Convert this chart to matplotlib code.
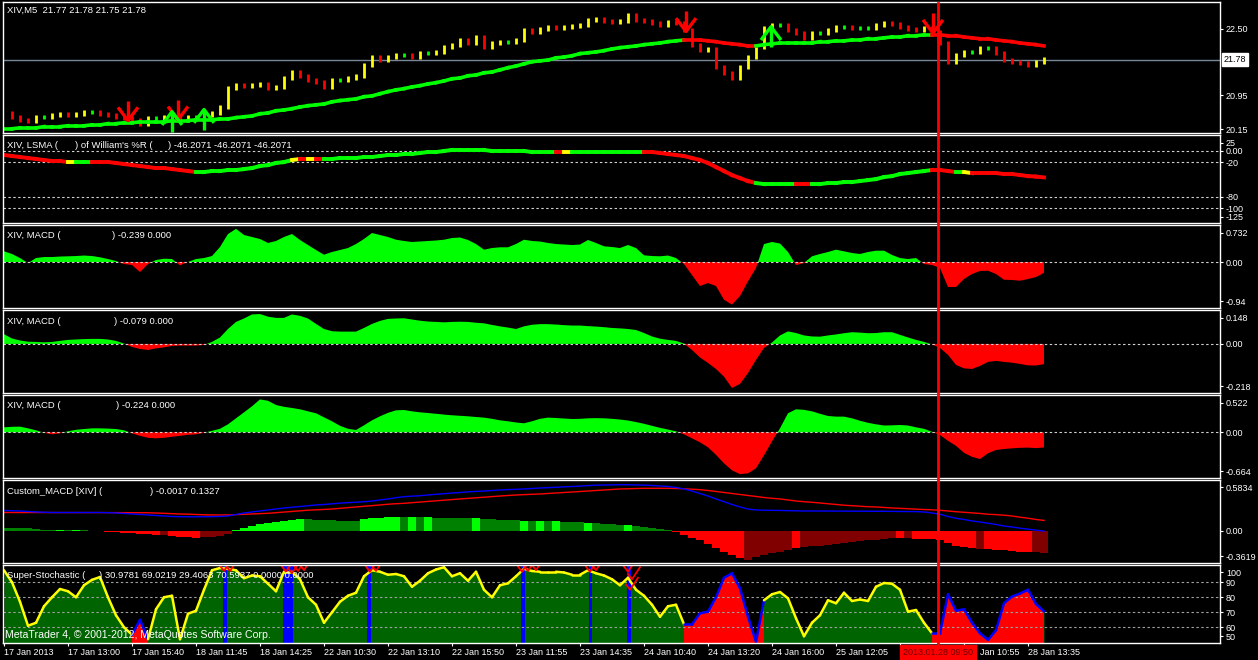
import numpy as np
import matplotlib
matplotlib.use("Agg")
import matplotlib.pyplot as plt
from matplotlib.collections import LineCollection
import matplotlib.transforms as mtrans

plt.rcParams['font.family'] = ['Liberation Sans', 'DejaVu Sans']

# ---------------- data (one sample every 4 five-minute bars) ----------------
price_close = [20.53,20.44,20.37,20.35,20.44,20.44,20.49,20.51,20.49,20.51,
20.56,20.56,20.51,20.49,20.44,20.42,20.35,20.28,20.42,20.42,
20.44,20.42,20.37,20.44,20.44,20.49,20.53,20.67,21.12,21.19,
21.17,21.19,21.21,21.12,21.14,21.35,21.49,21.40,21.31,21.26,
21.14,21.31,21.31,21.35,21.40,21.66,21.84,21.77,21.84,21.89,
21.89,21.84,21.94,21.94,21.96,22.08,22.13,22.24,22.17,22.31,
22.08,22.17,22.20,22.20,22.24,22.48,22.43,22.50,22.55,22.52,
22.55,22.57,22.59,22.71,22.73,22.69,22.66,22.69,22.83,22.71,
22.69,22.64,22.59,22.66,22.64,22.48,22.13,22.01,22.03,21.61,
21.47,21.35,21.61,21.84,22.08,22.52,22.59,22.59,22.48,22.41,
22.29,22.41,22.41,22.48,22.55,22.55,22.52,22.52,22.52,22.59,
22.64,22.62,22.55,22.50,22.48,22.52,22.43,22.17,21.73,21.89,
21.96,21.96,22.06,22.06,21.94,21.77,21.73,21.70,21.66,21.73,
21.78]

ma_price = [20.16,20.16,20.18,20.18,20.18,20.21,20.21,20.21,20.23,20.23,
20.23,20.25,20.25,20.28,20.28,20.30,20.30,20.32,20.32,20.32,
20.32,20.35,20.35,20.35,20.37,20.37,20.37,20.39,20.39,20.42,
20.44,20.46,20.51,20.53,20.58,20.60,20.63,20.67,20.70,20.72,
20.74,20.79,20.82,20.84,20.86,20.91,20.93,20.98,21.03,21.07,
21.10,21.14,21.17,21.21,21.24,21.28,21.33,21.35,21.40,21.42,
21.47,21.49,21.54,21.59,21.63,21.68,21.73,21.75,21.77,21.82,
21.84,21.87,21.92,21.94,21.96,21.99,22.03,22.06,22.08,22.10,
22.13,22.15,22.17,22.20,22.22,22.24,22.24,22.24,22.22,22.20,
22.17,22.15,22.13,22.10,22.10,22.13,22.15,22.17,22.17,22.17,
22.17,22.17,22.20,22.20,22.22,22.22,22.24,22.24,22.27,22.27,
22.29,22.31,22.31,22.34,22.34,22.36,22.36,22.36,22.34,22.34,
22.31,22.29,22.27,22.27,22.24,22.22,22.20,22.17,22.15,22.13,
22.10]
ma_state = ("g" * 86) + ("r" * 9) + ("g" * 22) + ("r" * 14)

last_price = 21.78
down_arrows = [(62, 20.35), (87, 20.37), (341, 22.44), (464.5, 22.40)]
up_arrows = [(84, 20.56), (100, 20.61), (383.5, 22.55)]

lsma = [-7.0,-8.8,-10.5,-12.3,-14.0,-15.8,-17.5,-17.5,-19.3,-19.3,
-19.3,-19.3,-19.3,-19.3,-21.0,-22.8,-24.6,-26.3,-28.1,-29.8,
-29.8,-31.6,-33.3,-35.1,-36.8,-36.8,-35.1,-35.1,-33.3,-33.3,
-31.6,-29.8,-26.3,-24.6,-21.0,-19.3,-15.8,-14.0,-14.0,-14.0,
-14.0,-14.0,-12.3,-12.3,-12.3,-10.5,-10.5,-8.8,-7.0,-7.0,
-5.3,-5.3,-3.5,-1.8,-1.8,0.0,1.8,1.8,1.8,1.8,
1.8,0.0,0.0,0.0,0.0,0.0,-1.8,-1.8,-1.8,-1.8,
-1.8,-1.8,-1.8,-1.8,-1.8,-1.8,-1.8,-1.8,-1.8,-1.8,
-1.8,-1.8,-3.5,-5.3,-7.0,-8.8,-12.3,-15.8,-21.0,-28.1,
-35.1,-42.1,-47.4,-52.6,-56.1,-57.9,-57.9,-57.9,-57.9,-57.9,
-57.9,-57.9,-57.9,-56.1,-56.1,-54.4,-54.4,-52.6,-50.9,-49.1,
-45.6,-43.9,-40.3,-38.6,-36.8,-35.1,-33.3,-33.3,-35.1,-36.8,
-36.8,-38.6,-38.6,-38.6,-38.6,-40.3,-40.3,-42.1,-43.9,-44.8,
-46.2]
lsma_state = ("rrrrrrrrr" "y" "gg" "rrrrrrrrrrrrr" "gggggggggggg" "yryr"
              "ggggggggggggggggggggggggggggg" "ry" "ggggggggg"
              "rrrrrrrrrrrrrr" "ggggg" "rr" "ggggggggggggggg" "rrr" "gy" "rrrrrrrrr")

macd1 = [0.236,0.177,0.088,-0.022,0.088,0.110,0.110,0.121,0.126,0.132,
0.143,0.132,0.104,0.066,0.022,-0.044,-0.066,-0.221,-0.044,0.044,
0.073,0.066,-0.073,0.0,0.066,0.088,0.132,0.331,0.618,0.732,
0.596,0.552,0.508,0.420,0.464,0.552,0.618,0.486,0.375,0.265,
0.161,0.221,0.265,0.309,0.397,0.508,0.640,0.596,0.552,0.492,
0.464,0.442,0.453,0.464,0.475,0.492,0.530,0.541,0.486,0.397,
0.272,0.309,0.325,0.325,0.397,0.492,0.464,0.453,0.420,0.397,
0.386,0.375,0.386,0.486,0.420,0.347,0.331,0.309,0.375,0.309,
0.148,0.132,0.126,0.143,0.088,-0.044,-0.287,-0.530,-0.464,-0.530,
-0.832,-0.940,-0.751,-0.426,-0.132,0.397,0.442,0.408,0.221,-0.066,
-0.022,0.126,0.177,0.221,0.272,0.236,0.199,0.177,0.221,0.250,
0.250,0.155,0.088,0.066,0.088,-0.044,-0.066,-0.132,-0.552,-0.552,
-0.375,-0.265,-0.199,-0.192,-0.265,-0.391,-0.397,-0.413,-0.375,-0.331,
-0.239]

macd2 = [0.048,0.027,0.017,0.011,0.010,0.008,0.010,0.015,0.020,0.022,
0.024,0.025,0.025,0.022,0.015,0.002,-0.015,-0.025,-0.030,-0.022,
-0.017,-0.010,-0.008,-0.008,-0.008,-0.005,0.010,0.032,0.074,0.109,
0.126,0.146,0.148,0.135,0.129,0.129,0.146,0.139,0.126,0.099,
0.074,0.063,0.061,0.061,0.061,0.079,0.099,0.114,0.124,0.126,
0.127,0.121,0.115,0.111,0.109,0.107,0.109,0.110,0.109,0.105,
0.102,0.094,0.087,0.081,0.074,0.087,0.095,0.098,0.098,0.096,
0.093,0.091,0.091,0.088,0.086,0.083,0.079,0.077,0.074,0.069,
0.054,0.037,0.026,0.020,0.015,0.002,-0.030,-0.067,-0.094,-0.124,
-0.162,-0.218,-0.198,-0.144,-0.079,-0.020,0.007,0.042,0.062,0.054,
0.042,0.037,0.036,0.042,0.047,0.053,0.058,0.056,0.053,0.054,
0.058,0.058,0.045,0.032,0.020,0.010,-0.002,-0.020,-0.054,-0.104,
-0.121,-0.124,-0.109,-0.089,-0.084,-0.089,-0.093,-0.099,-0.106,-0.107,
-0.100]

macd3 = [0.079,0.087,0.090,0.063,0.032,-0.008,-0.032,-0.016,0.016,0.040,
0.052,0.063,0.063,0.059,0.052,0.032,-0.016,-0.056,-0.087,-0.095,
-0.087,-0.071,-0.056,-0.040,-0.032,-0.008,0.024,0.056,0.127,0.222,
0.317,0.413,0.522,0.500,0.433,0.405,0.386,0.365,0.333,0.302,
0.238,0.175,0.103,0.056,0.037,0.111,0.190,0.254,0.309,0.349,
0.354,0.333,0.317,0.306,0.294,0.281,0.270,0.262,0.254,0.243,
0.233,0.214,0.190,0.175,0.156,0.143,0.175,0.214,0.233,0.227,
0.219,0.211,0.214,0.222,0.225,0.222,0.214,0.203,0.187,0.163,
0.135,0.103,0.071,0.044,0.016,-0.032,-0.095,-0.159,-0.238,-0.357,
-0.492,-0.603,-0.664,-0.651,-0.571,-0.365,-0.143,0.063,0.302,0.365,
0.357,0.333,0.294,0.259,0.249,0.249,0.222,0.183,0.151,0.127,
0.108,0.111,0.116,0.108,0.079,0.056,0.008,-0.043,-0.135,-0.214,
-0.325,-0.389,-0.424,-0.333,-0.281,-0.265,-0.254,-0.246,-0.243,-0.251,
-0.240]

cmacd_hist = [0.034,0.034,0.034,0.034,0.025,0.013,0.009,0.009,0.009,0.009,
0.006,0.004,-0.006,-0.013,-0.019,-0.025,-0.029,-0.038,-0.044,-0.050,
-0.057,-0.063,-0.072,-0.082,-0.084,-0.082,-0.076,-0.063,-0.032,0.009,
0.038,0.063,0.082,0.095,0.107,0.126,0.139,0.148,0.145,0.142,
0.139,0.135,0.132,0.132,0.132,0.151,0.164,0.168,0.170,0.173,
0.173,0.173,0.170,0.170,0.164,0.161,0.160,0.158,0.158,0.158,
0.151,0.145,0.139,0.139,0.136,0.132,0.130,0.126,0.124,0.120,
0.113,0.110,0.107,0.101,0.095,0.088,0.084,0.079,0.073,0.063,
0.050,0.038,0.025,0.013,-0.013,-0.050,-0.088,-0.120,-0.164,-0.214,
-0.261,-0.303,-0.340,-0.362,-0.328,-0.303,-0.281,-0.259,-0.240,-0.221,
-0.208,-0.195,-0.189,-0.180,-0.170,-0.158,-0.139,-0.126,-0.120,-0.113,
-0.101,-0.092,-0.092,-0.092,-0.095,-0.101,-0.107,-0.120,-0.151,-0.189,
-0.208,-0.221,-0.227,-0.231,-0.236,-0.240,-0.250,-0.259,-0.261,-0.265,
-0.274]
cmacd_state = ("DDDDDDD" "B" "D" "B" "DD" "RRRRRRRR" "M" "RRRR" "MMMM" "BBBBBBBBB"
               "DDDDDDD" "BBBBB" "D" "B" "D" "B" "DDDDD" "B" "DDDDD" "B" "D" "B" "D" "B"
               "DDD" "B" "DDDD" "B" "DDDDD" "RRRRRRRRR" "MMMMMM" "R" "MMMMMMMMMMMM"
               "R" "M" "RRRRRRRR" "M" "RRRRRR" "MM")

cmacd_main = [0.259,0.256,0.252,0.246,0.240,0.236,0.233,0.233,0.233,0.233,
0.233,0.233,0.233,0.231,0.227,0.221,0.214,0.208,0.202,0.195,
0.189,0.183,0.180,0.179,0.179,0.179,0.180,0.183,0.189,0.208,
0.227,0.240,0.252,0.265,0.277,0.290,0.299,0.309,0.318,0.328,
0.334,0.343,0.351,0.357,0.363,0.369,0.378,0.391,0.404,0.420,
0.433,0.439,0.445,0.454,0.463,0.470,0.479,0.485,0.494,0.499,
0.504,0.511,0.517,0.521,0.526,0.530,0.536,0.542,0.546,0.551,
0.557,0.561,0.567,0.574,0.578,0.580,0.582,0.5834,0.583,0.581,
0.578,0.574,0.567,0.561,0.549,0.530,0.504,0.473,0.441,0.404,
0.369,0.334,0.303,0.277,0.265,0.262,0.261,0.259,0.256,0.255,
0.252,0.252,0.252,0.251,0.251,0.250,0.250,0.249,0.249,0.248,
0.248,0.247,0.246,0.245,0.244,0.240,0.227,0.211,0.183,0.160,
0.145,0.126,0.113,0.097,0.082,0.063,0.050,0.035,0.023,0.010,
-0.0017]

cmacd_signal = [0.233,0.233,0.233,0.233,0.233,0.233,0.233,0.233,0.232,0.232,
0.232,0.232,0.232,0.232,0.231,0.231,0.231,0.231,0.230,0.227,
0.223,0.218,0.214,0.212,0.208,0.204,0.202,0.202,0.202,0.206,
0.211,0.214,0.218,0.223,0.231,0.240,0.248,0.256,0.262,0.267,
0.271,0.277,0.286,0.294,0.303,0.311,0.319,0.328,0.337,0.344,
0.349,0.357,0.366,0.373,0.381,0.388,0.396,0.404,0.411,0.419,
0.426,0.434,0.441,0.448,0.454,0.458,0.462,0.467,0.473,0.479,
0.485,0.492,0.498,0.504,0.511,0.517,0.523,0.530,0.533,0.537,
0.538,0.538,0.538,0.538,0.536,0.532,0.527,0.521,0.511,0.498,
0.485,0.473,0.460,0.448,0.435,0.422,0.412,0.404,0.391,0.378,
0.369,0.362,0.353,0.344,0.334,0.325,0.319,0.313,0.306,0.303,
0.296,0.290,0.286,0.281,0.275,0.271,0.267,0.261,0.252,0.243,
0.236,0.230,0.221,0.211,0.206,0.199,0.189,0.174,0.161,0.145,
0.1327]

stoch = [98,90,77,61,63,74,80,85.5,84,80,
88,91.6,93.5,80,68,60,55,65,52,72,
80,81,52,69,71,85,98,99.5,99,98,
92.7,94.5,94,89,84,97,97,92,80,75,
63,70,77,81,83,94,98,97,95,95.5,
94,87,91,96,98.5,100,94,96,91,97,
85,80,88,89.3,94,99,97.5,97,97,97,
96.5,95,95,98,96,94.5,92,88,93,85,
81,75,67,74,75,62,62,69.3,70.4,80,
93,96,86,67,50.4,78,82,83.5,79.3,66,
54,63,68,78,76,83,77.5,78.5,77.5,87,
89.5,89,85,70.4,71.5,63,56,56,82,71,
72,63,56,51.6,58,76,80.5,82.5,85,75.5,
70.6]
stoch_mode = ("u" * 17) + "d" + ("u" * 68) + ("d" * 9) + ("u" * 22) + ("d" * 14)
stoch_signal_spans = [(109.5, 111.5), (139.5, 144.5), (181.5, 183.5),
                      (258.5, 260.5), (292.5, 294.0), (311.5, 313.5)]
stoch_checks = [(110, 97.5), (113, 97.5), (141, 97), (144, 96), (147, 97.5), (150, 98),
                (183, 97), (186, 97.5), (259, 97), (262, 97.5), (266, 98),
                (293, 97), (296, 98), (312, 97), (314, 92), (313, 85)]

# time axis: the label at bar 448 is hidden under the cursor date box,
# and only "Jan 10:55" of the bar-480 label shows beside it
time_label_bars = [0, 32, 64, 96, 128, 160, 192, 224, 256, 288, 320, 352, 384, 416, 448, 480, 512]
time_labels = ['17 Jan 2013', '17 Jan 13:00', '17 Jan 15:40', '18 Jan 11:45', '18 Jan 14:25',
               '22 Jan 10:30', '22 Jan 13:10', '22 Jan 15:50', '23 Jan 11:55', '23 Jan 14:35',
               '24 Jan 10:40', '24 Jan 13:20', '24 Jan 16:00', '25 Jan 12:05', '',
               '', '28 Jan 13:35']
partial_label = 'Jan 10:55'
cursor_bar = 467
cursor_label = '2013.01.28 09:50'

# ---------------- figure ----------------
W, H = 1258, 660
fig = plt.figure(figsize=(W / 100, H / 100), dpi=100, facecolor='black')
xb = np.arange(len(price_close)) * 4
XMIN, XMAX = -0.5, 608.0
TFS = 6.8   # title font size
LFS = 6.5   # label font size

panels_px = [(2, 133), (135, 223), (225, 308), (310, 393), (395, 478), (480, 563), (565, 643)]
axes = []
for top, bot in panels_px:
    ax = fig.add_axes([3 / W, 1 - bot / H, 1217 / W, (bot - top) / H])
    ax.set_facecolor('black')
    ax.set_xlim(XMIN, XMAX)
    for s in ax.spines.values():
        s.set_color('white')
        s.set_linewidth(1)
    ax.yaxis.tick_right()
    ax.tick_params(axis='y', colors='white', labelsize=LFS, length=2.2, pad=2, width=0.8)
    ax.tick_params(axis='x', bottom=False, labelbottom=False)
    axes.append(ax)
ax1, ax2, ax3, ax4, ax5, ax6, ax7 = axes

def set_yaxis(ax, ylim, ticks, labels):
    ax.set_ylim(*ylim)
    ax.set_yticks(ticks)
    ax.set_yticklabels(labels)

def colored_line(ax, x, y, state, cmap, lw):
    pts = np.column_stack([x, y])
    segs = np.stack([pts[:-1], pts[1:]], axis=1)
    cols = [cmap[c] for c in state[1:]]
    ax.add_collection(LineCollection(segs, colors=cols, linewidths=lw, capstyle='projecting'))

def title(y, parts):
    for s, x in parts:
        fig.text(x / W, 1 - y / H, s, color='white', fontsize=TFS, va='center', ha='left')

DASH = (0, (2.2, 2.2))

# ---- panel 1: price ----
set_yaxis(ax1, (20.06, 23.13), [22.50, 20.95, 20.15], ['22.50', '20.95', '20.15'])
ax1.axhline(last_price, color='#778899', lw=1)
pc = np.array(price_close)
lo = np.minimum(pc[:-1], pc[1:]) - 0.05
hi = np.maximum(pc[:-1], pc[1:]) + 0.05
bcol = ['#FFFF00' if b > a else ('#FF0000' if b < a else '#00FF00') for a, b in zip(pc[:-1], pc[1:])]
ax1.vlines(xb[1:], lo, hi, colors=bcol, lw=2.0)
colored_line(ax1, xb, ma_price, ma_state, {'g': '#00FF00', 'r': '#FF0000'}, 2.6)
for b, tip in down_arrows:
    ax1.plot([b, b], [tip, tip + 0.47], color='#FF0000', lw=2.4, solid_capstyle='butt')
    ax1.plot([b - 4.5, b, b + 4.5], [tip + 0.28, tip, tip + 0.28], color='#FF0000', lw=2.4)
for b, tip in up_arrows:
    ax1.plot([b, b], [tip, tip - 0.47], color='#00FF00', lw=2.4, solid_capstyle='butt')
    ax1.plot([b - 4.5, b, b + 4.5], [tip - 0.28, tip, tip - 0.28], color='#00FF00', lw=2.4)
ax1.annotate('21.78', xy=(1.0, last_price), xycoords=('axes fraction', 'data'),
             xytext=(2.5, 0), textcoords='offset points', ha='left', va='center',
             fontsize=LFS, color='black', annotation_clip=False,
             bbox=dict(boxstyle='square,pad=0.2', fc='white', ec='white'))
title(10.5, [('XIV,M5  21.77 21.78 21.75 21.78', 7)])

# ---- panel 2: LSMA of William's %R ----
set_yaxis(ax2, (-126, 28), [14.6, 0, -20, -80, -100, -115], ['25', '0.00', '-20', '-80', '-100', '-125'])
for lv in [0, -20, -80, -100]:
    ax2.axhline(lv, color='#D0D0D0', lw=0.8, ls=DASH)
colored_line(ax2, xb, lsma, lsma_state, {'r': '#FF0000', 'g': '#00FF00', 'y': '#FFFF00'}, 2.8)
title(145.5, [('XIV, LSMA (', 7), (") of William's %R (", 75), (') -46.2071 -46.2071 -46.2071', 168)])

# ---- panels 3-5: MACD histograms ----
def hist_area(ax, v):
    v = np.asarray(v)
    ax.fill_between(xb, v, 0, where=v >= 0, interpolate=True, color='#00FF00', lw=0)
    ax.fill_between(xb, v, 0, where=v <= 0, interpolate=True, color='#FF0000', lw=0)
    ax.axhline(0, color='#D0D0D0', lw=0.8, ls=DASH)

set_yaxis(ax3, (-1.015, 0.817), [0.647, 0, -0.861], ['0.732', '0.00', '-0.94'])
hist_area(ax3, macd1)
title(235, [('XIV, MACD (', 7), (') -0.239 0.000', 112)])

set_yaxis(ax4, (-0.243, 0.168), [0.130, 0, -0.209], ['0.148', '0.00', '-0.218'])
hist_area(ax4, macd2)
title(321, [('XIV, MACD (', 7), (') -0.079 0.000', 114)])

set_yaxis(ax5, (-0.725, 0.592), [0.47, 0, -0.614], ['0.522', '0.00', '-0.664'])
hist_area(ax5, macd3)
title(405.5, [('XIV, MACD (', 7), (') -0.224 0.000', 116)])

# ---- panel 6: Custom MACD ----
set_yaxis(ax6, (-0.404, 0.643), [0.551, 0, -0.319], ['0.5834', '0.00', '-0.3619'])
hcmap = {'B': '#00FF00', 'D': '#008000', 'R': '#FF0000', 'M': '#800000'}
ax6.bar(xb, cmacd_hist, width=4, color=[hcmap[c] for c in cmacd_state], lw=0)
ax6.plot(xb, cmacd_signal, color='#FF0000', lw=1)
ax6.plot(xb, cmacd_main, color='#0000FF', lw=1)
title(491, [('Custom_MACD [XIV] (', 7), (') -0.0017 0.1327', 150)])

# ---- panel 7: Super-Stochastic ----
set_yaxis(ax7, (49.5, 101.5), [96.7, 90, 80, 70, 60, 54], ['100', '90', '80', '70', '60', '50'])
sv = np.array(stoch)
dm = np.array([c == 'd' for c in stoch_mode])
dext = dm | np.r_[dm[1:], False] | np.r_[False, dm[:-1]]
ax7.fill_between(xb, sv, 0, color='#006400', lw=0)
ax7.fill_between(xb, sv, 0, where=dext, color='#FF0000', lw=0)
for a, b in stoch_signal_spans:
    ax7.axvspan(a, b, color='#0000FF', lw=0)
for lv in [60, 70, 80, 90]:
    ax7.axhline(lv, color='#A0A0A0', lw=0.8, ls=DASH)
pts = np.column_stack([xb, sv])
segs = np.stack([pts[:-1], pts[1:]], axis=1)
scol = ['#0000FF' if (dm[i] or dm[i + 1]) else '#FFFF00' for i in range(len(sv) - 1)]
ax7.add_collection(LineCollection(segs, colors=scol, linewidths=1.8, capstyle='round'))
for b, v in stoch_checks:
    ax7.plot([b - 2, b, b + 4], [v + 3.5, v, v + 8], color='#FF0000', lw=1.3)
title(576, [('Super-Stochastic (', 7), (') 30.9781 69.0219 29.4063 70.5937 0.0000 0.0000', 99)])
fig.text(5 / W, 1 - 635.5 / H, 'MetaTrader 4, \u00a9 2001-2012, MetaQuotes Software Corp.',
         color='white', fontsize=7.6, va='center', ha='left')

# x axis labels
ax7.tick_params(axis='x', bottom=True, labelbottom=True, colors='white', labelsize=LFS,
                length=2.2, pad=1.5, width=0.8)
ax7.set_xticks(time_label_bars)
ax7.set_xticklabels(time_labels, ha='left')

# cursor line + highlighted date
tr = mtrans.blended_transform_factory(ax1.transData, fig.transFigure)
fig.add_artist(plt.Line2D([cursor_bar, cursor_bar], [1 - 3 / H, 1 - 643 / H], transform=tr,
                          color='#FF0000', lw=2))
box = ax7.annotate(cursor_label, xy=(cursor_bar, 0), xycoords=('data', 'axes fraction'),
                   xytext=(0, -6.8), textcoords='offset points', ha='center', va='center',
                   fontsize=LFS, color='#700000', annotation_clip=False, zorder=10,
                   bbox=dict(boxstyle='square,pad=0.35', fc='#FF0000', ec='#FF0000'))
# visible remainder of the partly covered bar-480 label, just right of the box
ax7.annotate(partial_label, xy=(cursor_bar + 21, 0), xycoords=('data', 'axes fraction'),
             xytext=(0, -6.8), textcoords='offset points', ha='left', va='center',
             fontsize=LFS, color='white', annotation_clip=False)

fig.savefig('out.png', dpi=100, facecolor='black')
